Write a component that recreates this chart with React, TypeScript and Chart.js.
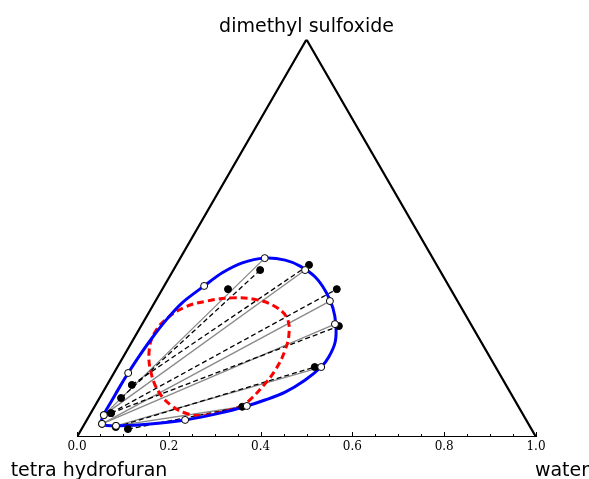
import React, { useEffect, useRef } from "react";
import { Chart, registerables } from "chart.js";

Chart.register(...registerables);

// Ternary compositions as [water fraction, dimethyl sulfoxide fraction]; THF = 1 - water - DMSO
const binodalCurve: [number, number][] = [
  [0.034, 0.034], [0.030, 0.055], [0.030, 0.093], [0.030, 0.128], [0.031, 0.161],
  [0.034, 0.206], [0.039, 0.249], [0.047, 0.294], [0.060, 0.337], [0.087, 0.380],
  [0.110, 0.413], [0.141, 0.438], [0.184, 0.450], [0.231, 0.445], [0.271, 0.430],
  [0.317, 0.403], [0.360, 0.365], [0.395, 0.325], [0.423, 0.282], [0.443, 0.239],
  [0.448, 0.201], [0.444, 0.176], [0.425, 0.143], [0.397, 0.113], [0.363, 0.093],
  [0.331, 0.078], [0.281, 0.060], [0.214, 0.043], [0.143, 0.033], [0.080, 0.028],
  [0.050, 0.029], [0.034, 0.034],
];

const spinodalCurve: [number, number][] = [
  [0.323, 0.078], [0.290, 0.065], [0.251, 0.055], [0.213, 0.058], [0.168, 0.078],
  [0.122, 0.113], [0.081, 0.161], [0.050, 0.214], [0.038, 0.259], [0.046, 0.297],
  [0.072, 0.327], [0.112, 0.342], [0.163, 0.350], [0.220, 0.345], [0.270, 0.327],
  [0.308, 0.299], [0.331, 0.262], [0.344, 0.219], [0.348, 0.171], [0.342, 0.131],
  [0.332, 0.098], [0.323, 0.078],
];

const calcTieLeft: [number, number][] = [
  [0.031, 0.055], [0.031, 0.055], [0.038, 0.033], [0.038, 0.033], [0.071, 0.028], [0.071, 0.028],
];
const calcTieRight: [number, number][] = [
  [0.184, 0.450], [0.287, 0.420], [0.380, 0.342], [0.420, 0.284], [0.444, 0.176], [0.331, 0.078],
];
const calcExtra: [number, number][] = [[0.087, 0.380], [0.031, 0.161], [0.214, 0.043]];

const expTieLeft: [number, number][] = [
  [0.047, 0.098], [0.054, 0.131], [0.044, 0.060], [0.044, 0.060], [0.072, 0.025], [0.101, 0.020],
];
const expTieRight: [number, number][] = [
  [0.189, 0.420], [0.289, 0.433], [0.380, 0.372], [0.431, 0.279], [0.430, 0.176], [0.322, 0.076],
];
const expExtra: [number, number][] = [[0.143, 0.372]];

const vertices: [number, number][] = [[0, 0], [1, 0], [0, 1], [0, 0]];
const tickValues = [0, 0.2, 0.4, 0.6, 0.8, 1.0];
const cornerLabels = ["tetra hydrofuran", "water", "dimethyl sulfoxide"];

const SQ = Math.sqrt(3) / 2;
const toXY = ([w, d]: [number, number]) => ({ x: w + d / 2, y: d * SQ });

const labelPlugin = {
  id: "ternaryDecor",
  afterDraw(chart: any) {
    const { ctx, scales } = chart;
    const xs = scales.x;
    const ys = scales.y;
    const base = ys.getPixelForValue(0);
    ctx.save();
    ctx.strokeStyle = "#000";
    ctx.lineWidth = 1;
    for (let i = 0; i <= 20; i++) {
      const v = i * 0.05;
      const px = Math.round(xs.getPixelForValue(v)) + 0.5;
      const len = i % 4 === 0 ? 5 : 3;
      ctx.beginPath();
      ctx.moveTo(px, base);
      ctx.lineTo(px, base - len);
      ctx.stroke();
    }
    ctx.fillStyle = "#000";
    ctx.font = '19px "DejaVu Sans"';
    ctx.textBaseline = "alphabetic";
    ctx.textAlign = "center";
    const apexX = xs.getPixelForValue(0.5);
    const apexY = ys.getPixelForValue(SQ);
    ctx.fillText(cornerLabels[2], apexX, apexY - 8);
    ctx.fillText(cornerLabels[0], xs.getPixelForValue(0) + 12, base + 39);
    ctx.fillText(cornerLabels[1], xs.getPixelForValue(1) + 26, base + 39);
    ctx.restore();
  },
};

export default function App() {
  const ref = useRef<HTMLCanvasElement | null>(null);
  useEffect(() => {
    if (!ref.current) return;
    const datasets: any[] = [];
    datasets.push({
      data: vertices.map(toXY), showLine: true, borderColor: "#000", borderWidth: 2.2,
      pointRadius: 0, order: 10,
    });
    calcTieLeft.forEach((l, i) => {
      datasets.push({
        data: [toXY(l), toXY(calcTieRight[i])], showLine: true, borderColor: "#888888",
        borderWidth: 1.3, pointRadius: 0, order: 8,
      });
    });
    expTieLeft.forEach((l, i) => {
      datasets.push({
        data: [toXY(l), toXY(expTieRight[i])], showLine: true, borderColor: "#000",
        borderWidth: 1.3, borderDash: [5, 3], pointRadius: 0, order: 7,
      });
    });
    datasets.push({
      data: spinodalCurve.map(toXY), showLine: true, borderColor: "#ff0000", borderWidth: 3,
      borderDash: [7, 4], tension: 0.4, pointRadius: 0, order: 5,
    });
    datasets.push({
      data: binodalCurve.map(toXY), showLine: true, borderColor: "#0000ff", borderWidth: 3,
      tension: 0.3, pointRadius: 0, order: 4,
    });
    datasets.push({
      data: [...expTieLeft, ...expTieRight, ...expExtra].map(toXY), showLine: false,
      pointRadius: 3.5, pointBackgroundColor: "#000", pointBorderColor: "#000", pointBorderWidth: 1, order: 2,
    });
    datasets.push({
      data: [...calcTieLeft, ...calcTieRight, ...calcExtra].map(toXY), showLine: false,
      pointRadius: 3.5, pointBackgroundColor: "#fff", pointBorderColor: "#000", pointBorderWidth: 1, order: 1,
    });
    const chart = new Chart(ref.current, {
      type: "scatter",
      data: { datasets },
      options: {
        animation: false,
        responsive: false,
        maintainAspectRatio: false,
        layout: { padding: { left: 77, right: 53, top: 39.5, bottom: 22 } },
        plugins: { legend: { display: false }, tooltip: { enabled: false } },
        scales: {
          x: {
            type: "linear", min: 0, max: 1,
            afterFit: (s: any) => { s.height = 20; },
            border: { display: false },
            grid: { display: false, drawTicks: false },
            afterBuildTicks: (s: any) => { s.ticks = tickValues.map((v) => ({ value: v })); },
            ticks: {
              padding: 3, color: "#000", maxRotation: 0, autoSkip: false,
              font: { family: "DejaVu Serif", size: 12 },
              callback: (v: any) => Number(v).toFixed(1),
            },
          },
          y: { display: false, min: 0, max: SQ },
        },
      },
      plugins: [labelPlugin],
    } as any);
    return () => chart.destroy();
  }, []);
  return (
    <div style={{ position: "fixed", left: 0, top: 0, width: 589, height: 479, background: "#fff" }}>
      <canvas ref={ref} width={589} height={479} style={{ width: 589, height: 479 }} />
    </div>
  );
}
